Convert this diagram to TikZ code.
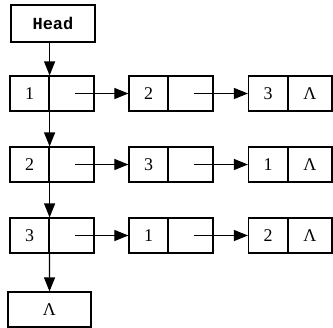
\documentclass[tikz,border=0pt]{standalone}
\usepackage{fontspec}
\setmainfont{Liberation Serif}
\newfontfamily\headfont{Liberation Mono}
\usepackage{tikz}
\usetikzlibrary{positioning}
\usetikzlibrary{arrows.meta}
\pgfdeclarelayer{nodelayer}
\pgfdeclarelayer{edgelayer}
\pgfsetlayers{nodelayer,edgelayer,main}
\tikzset{
    none/.style = {inner sep=0pt},
    cell/.style = {draw, line width=1.2pt, inner sep=0pt, minimum height=35bp,
      font=\fontsize{18}{18}\selectfont},
    data/.style = {cell, minimum width=39bp},
    link/.style = {cell, minimum width=45bp},
    ptr/.style = {line width=1.2pt, -{Triangle[length=14bp,width=11bp]}}
}

\begin{document}
\begin{tikzpicture}[x=1bp, y=-1bp]
  \useasboundingbox (0, 0) rectangle (333, 328);
  \begin{pgfonlayer}{nodelayer}
    \node [style=cell, minimum width=84bp, minimum height=37bp, font=\headfont\bfseries\fontsize{17}{17}\selectfont] (0) at (53, 23.5) {Head};
    % first row
    \node [style=data] (1) at (29.5, 93.5) {1};
    \node [style=link] (2) at (71.5, 93.5) {};
    \node [style=data] (3) at (148.5, 93.5) {2};
    \node [style=link] (4) at (190.5, 93.5) {};
    \node [style=data] (5) at (268, 93.5) {3};
    \node [style=link, minimum width=44bp] (6) at (310, 93.5) {Λ};
    % second row
    \node [style=data] (7) at (29.5, 164.5) {2};
    \node [style=link] (8) at (71.5, 164.5) {};
    \node [style=data] (9) at (148.5, 164.5) {3};
    \node [style=link] (10) at (190.5, 164.5) {};
    \node [style=data] (11) at (268, 164.5) {1};
    \node [style=link, minimum width=44bp] (12) at (310, 164.5) {Λ};
    % third row
    \node [style=data] (13) at (29.5, 235.5) {3};
    \node [style=link] (14) at (71.5, 235.5) {};
    \node [style=data] (15) at (148.5, 235.5) {1};
    \node [style=link] (16) at (190.5, 235.5) {};
    \node [style=data] (17) at (268, 235.5) {2};
    \node [style=link, minimum width=44bp] (18) at (310, 235.5) {Λ};
    \node [style=cell, minimum width=83bp] (19) at (49.5, 309.5) {Λ};
  \end{pgfonlayer}
  \begin{pgfonlayer}{edgelayer}
    \draw [style=ptr] (0.south -| 1.east) to (1.north east);
    \draw [style=ptr] (1.south east) to (7.north east);
    \draw [style=ptr] (7.south east) to (13.north east);
    \draw [style=ptr] (13.south east) to (19.north);
    \draw [style=ptr] ([xshift=3bp]2.center) to (3.west);
    \draw [style=ptr] ([xshift=3bp]4.center) to (5.west);
    \draw [style=ptr] ([xshift=3bp]8.center) to (9.west);
    \draw [style=ptr] ([xshift=3bp]10.center) to (11.west);
    \draw [style=ptr] ([xshift=3bp]14.center) to (15.west);
    \draw [style=ptr] ([xshift=3bp]16.center) to (17.west);
  \end{pgfonlayer}
\end{tikzpicture}
\end{document}
